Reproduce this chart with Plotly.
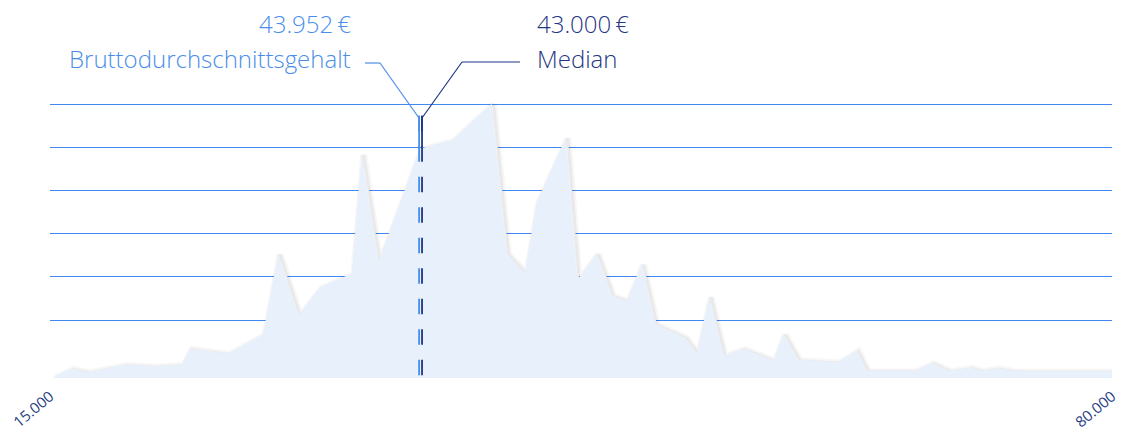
import plotly.graph_objects as go

# ---------------- data ----------------
salary = [15200, 16350, 17330, 19590, 21430, 23080, 23570, 25890, 28040, 28970,
          30200, 31530, 33470, 34080, 35090, 37650, 39590, 42030, 42950, 44070,
          44790, 46580, 47270, 48460, 49380, 50300, 51220, 52030, 53870, 54580,
          55350, 56210, 57430, 59270, 59890, 60800, 63250, 64370, 64990, 67940,
          68970, 70040, 71310, 72030, 72940, 74170, 80000]
count = [0.2, 2.2, 1.4, 3.1, 2.7, 3.1, 6.8, 5.7, 10.1, 28.8,
         14.5, 21.0, 24.2, 51.9, 26.8, 53.1, 55.0, 63.5, 28.8, 24.3,
         40.7, 55.7, 22.7, 28.8, 19.1, 17.9, 26.4, 12.5, 9.4, 5.7,
         18.9, 5.2, 6.8, 4.1, 10.2, 4.2, 3.7, 6.4, 1.7, 1.7,
         3.5, 1.7, 2.4, 1.7, 2.3, 1.6, 1.6]

grid_vals = [13.4, 23.4, 33.4, 43.4, 53.4, 63.4]
tick_vals = [15000, 80000]
tick_text = ["15.000", "80.000"]

stat_labels = ["Bruttodurchschnittsgehalt", "Median"]
stat_values = ["43.952\u2009€", "43.000\u2009€"]
stat_pos = [37590, 37770]          # where the marker lines sit on the axis
stat_top = 60.7                    # top of the marker stems
stat_solid_end = 53.5              # end of the solid part of the stems

# ---------------- layout constants ----------------
W, H = 1122, 434
ML, MR, MT, MB = 50, 10, 0, 56
X_RANGE = [15000, 80000]
PX_PER_UNIT = 4.32
Y_RANGE = [0, (H - MT - MB) / PX_PER_UNIT]

x_per_px = (X_RANGE[1] - X_RANGE[0]) / (W - ML - MR)


def xd(px):
    return X_RANGE[0] + (px - ML) * x_per_px


def yd(py):
    return (H - MB - py) / PX_PER_UNIT


LIGHT = "#4a8eea"
DARK = "#1f3784"
GRID = "#3f87f2"
AREA = "#e8f0fb"
FONT = "Open Sans"

fig = go.Figure()

# invisible trace to anchor base axes
fig.add_trace(go.Scatter(x=X_RANGE, y=[0, 0], mode="lines",
                         line=dict(width=0), hoverinfo="skip", showlegend=False))

# soft shadow of the area (slightly offset): wide faint + narrow stronger
fig.add_trace(go.Scatter(x=salary, y=count, xaxis="x2", yaxis="y2",
                         mode="lines", fill="tozeroy", fillcolor="white",
                         line=dict(color="rgba(0,0,0,0.035)", width=7),
                         hoverinfo="skip", showlegend=False))
fig.add_trace(go.Scatter(x=salary, y=count, xaxis="x2", yaxis="y2",
                         mode="lines",
                         line=dict(color="rgba(0,0,0,0.05)", width=3),
                         hoverinfo="skip", showlegend=False))

# main area
fig.add_trace(go.Scatter(x=salary, y=count, xaxis="x3", yaxis="y3",
                         mode="lines", fill="tozeroy", fillcolor=AREA,
                         line=dict(color=AREA, width=0),
                         hoverinfo="skip", showlegend=False))

shapes = []
colors = [LIGHT, DARK]
for i in range(2):
    xp = stat_pos[i]
    shapes.append(dict(type="line", xref="x", yref="y", x0=xp, x1=xp,
                       y0=stat_top, y1=0, layer="above",
                       line=dict(color=colors[i], width=1.8, dash="15.5px,15px")))
    shapes.append(dict(type="line", xref="x", yref="y", x0=xp, x1=xp,
                       y0=stat_top, y1=stat_solid_end, layer="above",
                       line=dict(color=colors[i], width=1.8)))

# leader lines
leader_light = [(419, 118), (380, 63), (365, 63)]
leader_dark = [(422, 118), (462, 62), (520, 62)]
for pts, c in [(leader_light, LIGHT), (leader_dark, DARK)]:
    for (a, b) in zip(pts[:-1], pts[1:]):
        shapes.append(dict(type="line", xref="x", yref="y",
                           x0=xd(a[0]), y0=yd(a[1]), x1=xd(b[0]), y1=yd(b[1]),
                           layer="above", line=dict(color=c, width=1.2)))

FS = 24
annotations = [
    dict(x=xd(353), y=yd(23), xref="x", yref="y", text=stat_values[0],
         showarrow=False, xanchor="right", yanchor="middle",
         font=dict(family=FONT, size=FS, color=LIGHT, weight=300)),
    dict(x=xd(353), y=yd(58), xref="x", yref="y", text=stat_labels[0],
         showarrow=False, xanchor="right", yanchor="middle",
         font=dict(family=FONT, size=FS, color=LIGHT, weight=300)),
    dict(x=xd(535), y=yd(23), xref="x", yref="y", text=stat_values[1],
         showarrow=False, xanchor="left", yanchor="middle",
         font=dict(family=FONT, size=FS, color=DARK, weight=300)),
    dict(x=xd(535), y=yd(58), xref="x", yref="y", text=stat_labels[1],
         showarrow=False, xanchor="left", yanchor="middle",
         font=dict(family=FONT, size=FS, color=DARK, weight=300)),
]

dx = 2 * x_per_px
dy = 1 / PX_PER_UNIT

fig.update_layout(
    width=W, height=H,
    margin=dict(l=ML, r=MR, t=MT, b=MB, autoexpand=False),
    paper_bgcolor="white", plot_bgcolor="white",
    showlegend=False,
    xaxis=dict(range=X_RANGE, tickvals=tick_vals, ticktext=tick_text,
               tickangle=-40, showgrid=False, zeroline=False, showline=False,
               ticks="", ticklabelstandoff=6, automargin=False,
               tickfont=dict(family=FONT, size=15, color="#2b3f85")),
    yaxis=dict(range=Y_RANGE, tickvals=grid_vals, showticklabels=False,
               showgrid=True, gridcolor=GRID, gridwidth=1.3, zeroline=False,
               showline=False, ticks="", automargin=False),
    xaxis2=dict(range=[X_RANGE[0] - dx, X_RANGE[1] - dx], overlaying="x",
                visible=False),
    yaxis2=dict(range=[Y_RANGE[0] + dy, Y_RANGE[1] + dy], overlaying="y",
                visible=False),
    xaxis3=dict(range=X_RANGE, overlaying="x", visible=False),
    yaxis3=dict(range=Y_RANGE, overlaying="y", visible=False),
    shapes=shapes,
    annotations=annotations,
)

fig.write_html("out.html", config={"displayModeBar": False},
               post_script="document.body.style.margin='0';"
                           "document.body.style.overflow='hidden';")
